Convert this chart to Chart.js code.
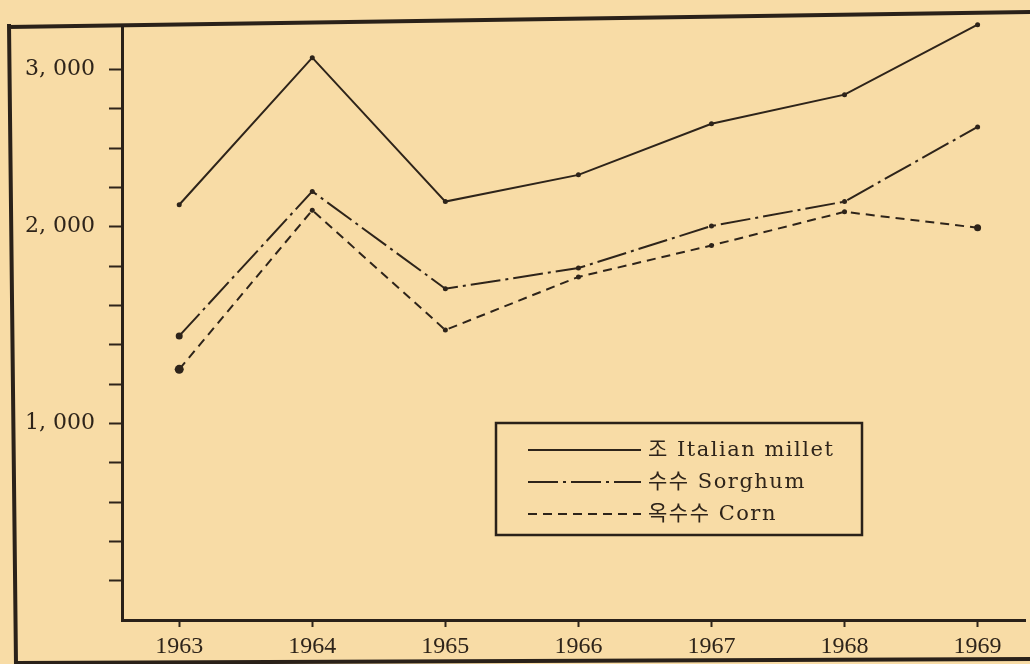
<!DOCTYPE html>
<html>
<head>
<meta charset="utf-8">
<script src="https://cdn.jsdelivr.net/npm/chart.js@4/dist/chart.umd.min.js"></script>
<style>
  html, body { margin: 0; padding: 0; background: #f8dca6; }
  #wrap { width: 1030px; height: 664px; position: relative; }
</style>
</head>
<body>
<div id="wrap"><canvas id="chart"></canvas></div>
<script>
const years = [1963, 1964, 1965, 1966, 1967, 1968, 1969];
const millet = [2140, 3075, 2160, 2330, 2655, 2840, 3285];
const sorghum = [1445, 2225, 1685, 1790, 2005, 2160, 2635];
const corn = [1275, 2105, 1475, 1745, 1905, 2095, 1995];

const yTickValues = [200, 400, 600, 800, 1000, 1200, 1400, 1600, 1800, 2000,
  2250, 2500, 2750, 3000];
const yLabelValues = [1000, 2000, 3000];

const seriesNames = ['조 Italian millet', '수수 Sorghum', '옥수수 Corn'];

const INK = '#2e241a';
const PAPER = '#f8dca6';

// the value axis is drawn unevenly: 200 per step up to 2,000, then 250 per step
const yBreaks = [[0, 0], [2000, 2000], [3000, 2800]];

function toPos(v) {
  for (let i = 1; i < yBreaks.length; i++) {
    const [v0, p0] = yBreaks[i - 1];
    const [v1, p1] = yBreaks[i];
    if (v <= v1 || i === yBreaks.length - 1) {
      return p0 + (v - v0) * (p1 - p0) / (v1 - v0);
    }
  }
}
function fromPos(p) {
  for (let i = 1; i < yBreaks.length; i++) {
    const [v0, p0] = yBreaks[i - 1];
    const [v1, p1] = yBreaks[i];
    if (p <= p1 || i === yBreaks.length - 1) {
      return v0 + (p - p0) * (v1 - v0) / (p1 - p0);
    }
  }
}

const LinearScale = Chart.LinearScale || Chart.registry.getScale('linear');
class PiecewiseScale extends LinearScale {
  static id = 'piecewise';
  static defaults = {};
  getPixelForValue(value) {
    return super.getPixelForValue(toPos(value));
  }
  getValueForPixel(pixel) {
    return fromPos(super.getValueForPixel(pixel));
  }
}
Chart.register(PiecewiseScale);

// paper background and the printed frame
const framePlugin = {
  id: 'frame',
  beforeDraw(chart) {
    const ctx = chart.ctx;
    ctx.save();
    ctx.fillStyle = PAPER;
    ctx.fillRect(0, 0, chart.width, chart.height);
    ctx.restore();
  },
  afterDraw(chart) {
    const ctx = chart.ctx;
    ctx.save();
    ctx.strokeStyle = '#2a2119';
    ctx.lineWidth = 4;
    ctx.beginPath();
    ctx.moveTo(8, 27);
    ctx.lineTo(1030, 12);
    ctx.moveTo(9, 24);
    ctx.lineTo(16, 664);
    ctx.moveTo(16, 663);
    ctx.lineTo(1030, 659);
    ctx.stroke();
    ctx.restore();
  }
};

// boxed key in the lower middle of the plot
const keyPlugin = {
  id: 'key',
  afterDatasetsDraw(chart) {
    const ctx = chart.ctx;
    const box = { x: 496, y: 423, w: 366, h: 112 };
    ctx.save();
    ctx.fillStyle = PAPER;
    ctx.fillRect(box.x, box.y, box.w, box.h);
    ctx.strokeStyle = '#2a2119';
    ctx.lineWidth = 2.5;
    ctx.strokeRect(box.x, box.y, box.w, box.h);
    ctx.font = '21px "DejaVu Serif", "Noto Sans CJK KR", serif';
    ctx.letterSpacing = '1.5px';
    ctx.textBaseline = 'middle';
    ctx.fillStyle = INK;
    chart.data.datasets.forEach((ds, i) => {
      const y = box.y + 27 + i * 32;
      ctx.beginPath();
      ctx.setLineDash(ds.borderDash || []);
      ctx.strokeStyle = ds.borderColor;
      ctx.lineWidth = 2;
      ctx.moveTo(box.x + 32, y);
      ctx.lineTo(box.x + 145, y);
      ctx.stroke();
      ctx.setLineDash([]);
      ctx.fillText(ds.label, box.x + 152, y + 1);
    });
    ctx.restore();
  }
};

function series(label, values, dash, radius) {
  return {
    label,
    data: years.map((yr, i) => ({ x: yr, y: values[i] })),
    borderColor: INK,
    backgroundColor: INK,
    borderWidth: 2,
    borderDash: dash,
    pointRadius: radius,
    pointBorderWidth: 0,
    tension: 0,
    clip: false
  };
}

new Chart(document.getElementById('chart'), {
  type: 'line',
  data: {
    datasets: [
      series(seriesNames[0], millet, [], 2.5),
      series(seriesNames[1], sorghum, [30, 5, 3, 5], [3.5, 2.5, 2.5, 2.5, 2.5, 2.5, 2.5]),
      series(seriesNames[2], corn, [9, 6], [4.5, 2.5, 2.5, 2.5, 2.5, 2.5, 3.5])
    ]
  },
  options: {
    responsive: true,
    maintainAspectRatio: false,
    animation: false,
    layout: { padding: { top: 19, right: 0, left: 0, bottom: 0 } },
    plugins: {
      legend: { display: false },
      tooltip: { enabled: false }
    },
    scales: {
      x: {
        type: 'linear',
        min: 1962.57,
        max: 1969.36,
        afterBuildTicks(scale) {
          scale.ticks = years.map(v => ({ value: v }));
        },
        afterFit(scale) {
          scale.height = 44;
        },
        grid: {
          drawOnChartArea: false,
          tickLength: 7,
          tickWidth: 2,
          tickColor: INK
        },
        border: { display: true, color: '#2a2119', width: 3 },
        ticks: {
          autoSkip: false,
          maxRotation: 0,
          padding: 5,
          color: INK,
          font: { family: '"Liberation Serif", serif', size: 24 },
          callback: v => String(v)
        }
      },
      y: {
        type: 'piecewise',
        min: 0,
        max: 3015,
        afterBuildTicks(scale) {
          scale.ticks = yTickValues.map(v => ({ value: v }));
        },
        afterFit(scale) {
          scale.width = 122;
        },
        grid: {
          drawOnChartArea: false,
          tickLength: 13,
          tickWidth: 2,
          tickColor: INK
        },
        border: { display: true, color: '#2a2119', width: 3 },
        ticks: {
          autoSkip: false,
          padding: 14,
          color: INK,
          font: { family: '"DejaVu Serif", serif', size: 22 },
          callback: v => yLabelValues.includes(v) ? v.toLocaleString('en-US').replace(',', ', ') : ''
        }
      }
    }
  },
  plugins: [framePlugin, keyPlugin]
});
</script>
</body>
</html>
